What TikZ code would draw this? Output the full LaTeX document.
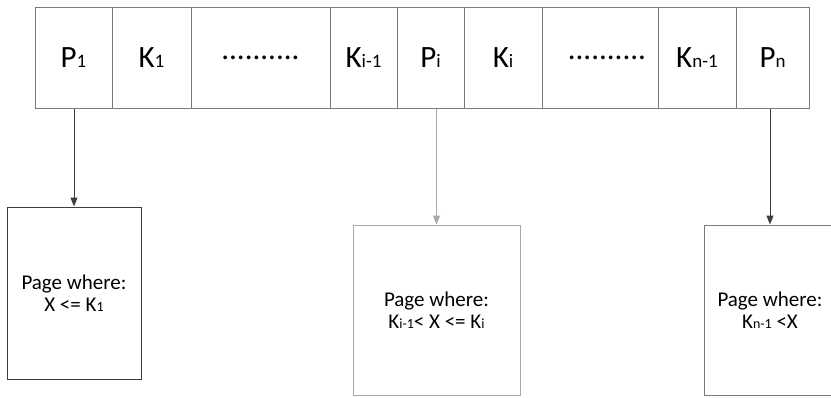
\documentclass[tikz,border=0pt]{standalone}
\usepackage{fontspec}
\setmainfont{Carlito}
\usetikzlibrary{arrows.meta}

\definecolor{cellgray}{HTML}{7A7A7A}
\definecolor{darkline}{HTML}{3C3C3C}
\definecolor{lightline}{HTML}{A8A8A8}

\newcommand{\subc}[1]{{\fontsize{19}{19}\selectfont #1}}
\newcommand{\subp}[1]{{\fontsize{14}{14}\selectfont #1}}

\tikzset{
  cell/.style={draw=cellgray, line width=1pt, minimum height=101pt, inner sep=0pt,
    font=\fontsize{31}{33}\selectfont},
  page/.style={draw=#1, line width=1pt, inner sep=0pt, align=center,
    font=\fontsize{21}{22}\selectfont},
  link/.style={draw=#1, line width=1pt, -{Triangle[width=7pt,length=9pt]}}
}

\begin{document}
\begin{tikzpicture}[x=1pt, y=-1pt]
\useasboundingbox (0,0) rectangle (831,397);

% the key row
\node[cell, minimum width=77pt] (p1) at (73.5,57.5) {P\subc{1}};
\node[cell, minimum width=79pt] (k1) at (151.5,57.5) {K\subc{1}};
\node[cell, minimum width=139pt] (dots1) at (260.5,57.5) {..........};
\node[cell, minimum width=67pt] (kim) at (363.5,57.5) {K\subc{i-1}};
\node[cell, minimum width=67pt] (pi) at (430.5,57.5) {P\subc{i}};
\node[cell, minimum width=78pt] (ki) at (503,57.5) {K\subc{i}};
\node[cell, minimum width=116pt] (dots2) at (600,57.5) {\hspace{14pt}..........};
\node[cell, minimum width=78pt] (knm) at (697,57.5) {K\subc{n-1}};
\node[cell, minimum width=73pt] (pn) at (772.5,57.5) {P\subc{n}};

% the pages below
\node[page=darkline, minimum width=134pt, minimum height=172pt] (page1) at (74,293)
  {Page where:\\X <= K\subp{1}};
\node[page=lightline, minimum width=167pt, minimum height=170pt] (pagei) at (436.5,310)
  {Page where:\\K\subp{i-1}< X <= K\subp{i}};
\node[page=cellgray, minimum width=132pt, minimum height=170pt] (pagen) at (770,310)
  {Page where:\\K\subp{n-1} <X};

\draw[link=darkline] (p1.south -| page1.north) -- (page1.north);
\draw[link=lightline] (pi.south -| pagei.north) -- (pagei.north);
\draw[link=darkline] (pn.south -| pagen.north) -- (pagen.north);
\end{tikzpicture}
\end{document}
